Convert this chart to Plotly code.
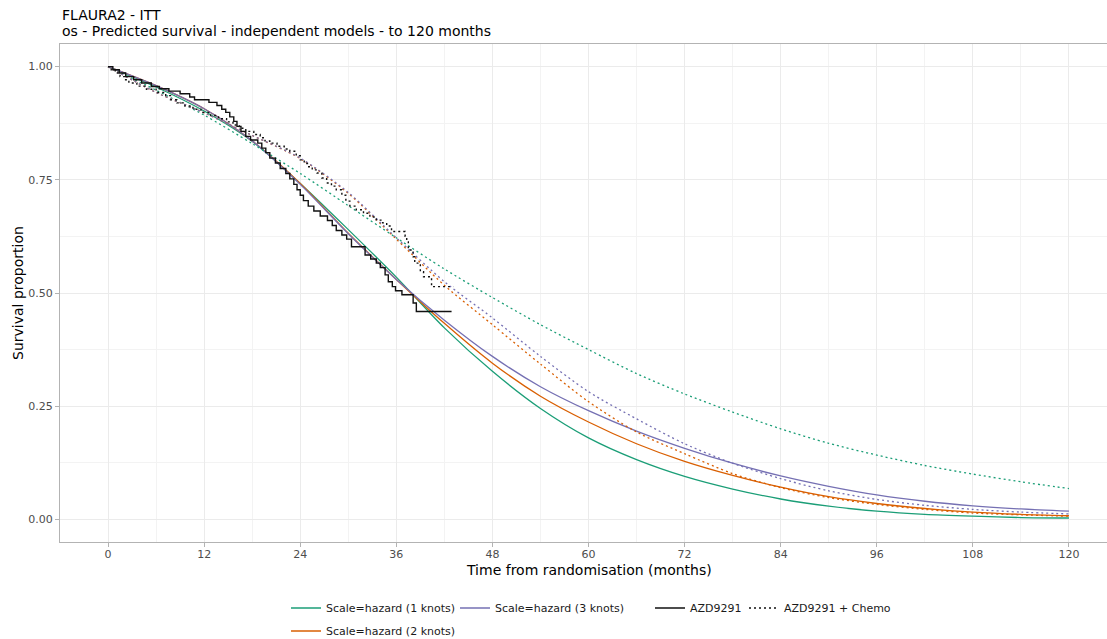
import plotly.graph_objects as go

# ---------------- data ----------------
months = [0, 6, 12, 18, 24, 30, 36, 42, 48, 54, 60, 66, 72, 78, 84, 90, 96, 102, 108, 114, 120]

# Predicted survival, AZD9291 arm (solid)
k1_azd = [1.0, 0.955, 0.902, 0.835, 0.742, 0.64, 0.535, 0.423, 0.327, 0.245, 0.18, 0.132, 0.095, 0.067, 0.045, 0.029, 0.018, 0.011, 0.007, 0.004, 0.003]
k2_azd = [1.0, 0.958, 0.907, 0.836, 0.742, 0.632, 0.53, 0.433, 0.345, 0.272, 0.215, 0.167, 0.128, 0.097, 0.071, 0.05, 0.035, 0.024, 0.016, 0.011, 0.008]
k3_azd = [1.0, 0.958, 0.907, 0.836, 0.74, 0.631, 0.53, 0.44, 0.36, 0.293, 0.24, 0.195, 0.157, 0.124, 0.096, 0.073, 0.054, 0.04, 0.03, 0.023, 0.018]

# Predicted survival, AZD9291 + Chemo arm (dotted)
k1_chemo = [1.0, 0.948, 0.893, 0.83, 0.764, 0.693, 0.622, 0.553, 0.49, 0.43, 0.375, 0.322, 0.277, 0.237, 0.2, 0.168, 0.142, 0.119, 0.1, 0.083, 0.068]
k2_chemo = [1.0, 0.943, 0.898, 0.848, 0.797, 0.72, 0.619, 0.517, 0.43, 0.343, 0.26, 0.193, 0.145, 0.101, 0.07, 0.048, 0.033, 0.022, 0.014, 0.01, 0.007]
k3_chemo = [1.0, 0.943, 0.898, 0.848, 0.798, 0.722, 0.622, 0.525, 0.445, 0.36, 0.282, 0.222, 0.167, 0.124, 0.09, 0.063, 0.044, 0.031, 0.022, 0.016, 0.012]

# Kaplan-Meier, AZD9291
km_azd_t = [0, 0.6, 1.4, 2.2, 3.2, 4.2, 5.4, 6.4, 7.6, 9.0, 10.2, 10.8, 12.6, 13.6, 14.2, 14.7, 15.2, 15.7, 16.1, 16.6,
            17.2, 17.8, 18.7, 19.2, 19.7, 20.2, 20.9, 21.5, 22.2, 22.7, 23.2, 23.6, 24.0, 24.4, 25.0, 25.7, 26.5, 27.4,
            28.0, 28.5, 29.2, 29.8, 30.4, 32.1, 32.8, 33.5, 34.0, 34.6, 35.0, 35.5, 35.9, 36.7, 38.1, 38.5, 42.9]
km_azd_s = [1.0, 0.993, 0.986, 0.978, 0.971, 0.964, 0.956, 0.951, 0.946, 0.94, 0.933, 0.927, 0.921, 0.914, 0.906, 0.899,
            0.889, 0.879, 0.868, 0.857, 0.846, 0.838, 0.831, 0.82, 0.81, 0.798, 0.787, 0.775, 0.764, 0.752, 0.74, 0.728,
            0.716, 0.704, 0.692, 0.681, 0.67, 0.66, 0.649, 0.638, 0.628, 0.619, 0.602, 0.584, 0.575, 0.566, 0.556, 0.54,
            0.525, 0.514, 0.505, 0.496, 0.478, 0.459, 0.459]

# Kaplan-Meier, AZD9291 + Chemo
km_chemo_t = [0, 0.4, 0.9, 1.5, 2.1, 2.6, 3.6, 4.8, 6.0, 7.2, 7.8, 8.6, 9.6, 10.6, 11.6, 12.8, 13.8, 14.8, 15.6, 16.4,
              17.2, 18.2, 19.0, 19.6, 20.2, 21.1, 22.0, 22.7, 23.5, 24.0, 24.5, 24.9, 25.5, 26.1, 26.7, 27.3, 27.9, 28.5,
              29.2, 29.7, 30.2, 31.0, 31.9, 32.7, 33.5, 34.3, 34.8, 35.4, 37.1, 37.3, 37.5, 38.1, 38.3, 39.0, 39.4, 40.4, 43.1]
km_chemo_s = [1.0, 0.993, 0.986, 0.978, 0.971, 0.964, 0.957, 0.95, 0.943, 0.936, 0.927, 0.92, 0.913, 0.906, 0.899, 0.892,
              0.885, 0.878, 0.871, 0.864, 0.857, 0.85, 0.843, 0.836, 0.831, 0.824, 0.818, 0.813, 0.803, 0.794, 0.786,
              0.779, 0.772, 0.765, 0.754, 0.743, 0.736, 0.728, 0.716, 0.703, 0.692, 0.684, 0.676, 0.668, 0.661, 0.655,
              0.648, 0.636, 0.625, 0.613, 0.595, 0.58, 0.566, 0.547, 0.536, 0.514, 0.514]

x_ticks = [0, 12, 24, 36, 48, 60, 72, 84, 96, 108, 120]
x_minor = [6, 18, 30, 42, 54, 66, 78, 90, 102, 114]
y_ticks = [0, 0.25, 0.5, 0.75, 1.0]
y_ticklabels = ["0.00", "0.25", "0.50", "0.75", "1.00"]
y_minor = [0.125, 0.375, 0.625, 0.875]

model_names = ["Scale=hazard (1 knots)", "Scale=hazard (2 knots)", "Scale=hazard (3 knots)"]
km_names = ["AZD9291", "AZD9291 + Chemo"]

# ---------------- figure ----------------
GREEN, ORANGE, PURPLE = "#1B9E77", "#D95F02", "#7570B3"
FONT = "DejaVu Sans"
W, H = 1107, 639

fig = go.Figure()
models = [
    (model_names[0], GREEN, k1_azd, k1_chemo, "legend"),
    (model_names[1], ORANGE, k2_azd, k2_chemo, "legend3"),
    (model_names[2], PURPLE, k3_azd, k3_chemo, "legend2"),
]
for name, col, azd, chemo, leg in models:
    fig.add_trace(go.Scatter(x=months, y=azd, mode="lines", name=name, legend=leg,
                             line=dict(color=col, width=1.3, shape="spline", smoothing=0.8),
                             hoverinfo="skip"))
for name, col, azd, chemo, leg in models:
    fig.add_trace(go.Scatter(x=months, y=chemo, mode="lines", name=name, showlegend=False,
                             line=dict(color=col, width=1.3, dash="2px,3px", shape="spline", smoothing=0.8),
                             hoverinfo="skip"))

fig.add_trace(go.Scatter(x=km_azd_t, y=km_azd_s, mode="lines", name=km_names[0], legend="legend4",
                         line=dict(color="#111111", width=1.4, shape="hv"), hoverinfo="skip"))
fig.add_trace(go.Scatter(x=km_chemo_t, y=km_chemo_s, mode="lines", name=km_names[1], legend="legend5",
                         line=dict(color="#111111", width=1.4, shape="hv", dash="2px,3px"), hoverinfo="skip"))

top, bottom = 44.4, 541.6
ph = bottom - top


def leg(px, py):
    return dict(xref="container", yref="container", x=px / W, y=1 - py / H,
                xanchor="left", yanchor="middle", orientation="h",
                bgcolor="rgba(0,0,0,0)", borderwidth=0,
                font=dict(family=FONT, size=11, color="#1a1a1a"))


axis_common = dict(
    ticks="outside", ticklen=4, tickwidth=1, tickcolor="#B3B3B3",
    tickfont=dict(family=FONT, size=11, color="#4D4D4D"),
    showline=True, linecolor="#B3B3B3", linewidth=1.1,
    showgrid=True, gridcolor="#EBEBEB", gridwidth=1.1, zeroline=False,
)

fig.update_layout(
    width=W, height=H, autosize=False,
    margin=dict(l=60, r=0, t=top, b=H - bottom, pad=0),
    paper_bgcolor="white", plot_bgcolor="white",
    font=dict(family=FONT, color="black"),
    xaxis=dict(range=[-6, 124.75], tickmode="array", tickvals=x_ticks,
               ticktext=[str(v) for v in x_ticks], mirror=True, ticklabelstandoff=-2,
               minor=dict(tickmode="array", tickvals=x_minor, showgrid=True,
                          gridcolor="#F3F3F3", gridwidth=0.7, ticks=""),
               **axis_common),
    yaxis=dict(range=[-0.05, 1.05], tickmode="array", tickvals=y_ticks,
               ticktext=y_ticklabels, mirror=False,
               minor=dict(tickmode="array", tickvals=y_minor, showgrid=True,
                          gridcolor="#F3F3F3", gridwidth=0.7, ticks=""),
               **axis_common),
    legend=leg(286, 608),
    legend2=leg(455, 608),
    legend3=leg(286, 631),
    legend4=leg(650, 608),
    legend5=leg(744, 608),
    showlegend=True,
)

# titles
fig.add_annotation(text="FLAURA2 - ITT", xref="paper", yref="paper", x=0, xanchor="left",
                   y=1 + (top - 15) / ph, yanchor="middle", showarrow=False,
                   font=dict(family=FONT, size=14, color="black"))
fig.add_annotation(text="os - Predicted survival - independent models - to 120 months", xref="paper",
                   yref="paper", x=0, xanchor="left", y=1 + (top - 31) / ph, yanchor="middle",
                   showarrow=False, font=dict(family=FONT, size=14, color="black"))
fig.add_annotation(text="Time from randomisation (months)", xref="x", yref="paper", x=60, xanchor="center",
                   y=1 - (569.5 - top) / ph, yanchor="middle", showarrow=False,
                   font=dict(family=FONT, size=14, color="black"))
fig.add_annotation(text="Survival proportion", xref="paper", yref="y", x=(18 - 60) / 1047, xanchor="center",
                   y=0.5, yanchor="middle", textangle=-90, showarrow=False,
                   font=dict(family=FONT, size=14, color="black"))

fig.write_html("out.html", config={"displayModeBar": False})
